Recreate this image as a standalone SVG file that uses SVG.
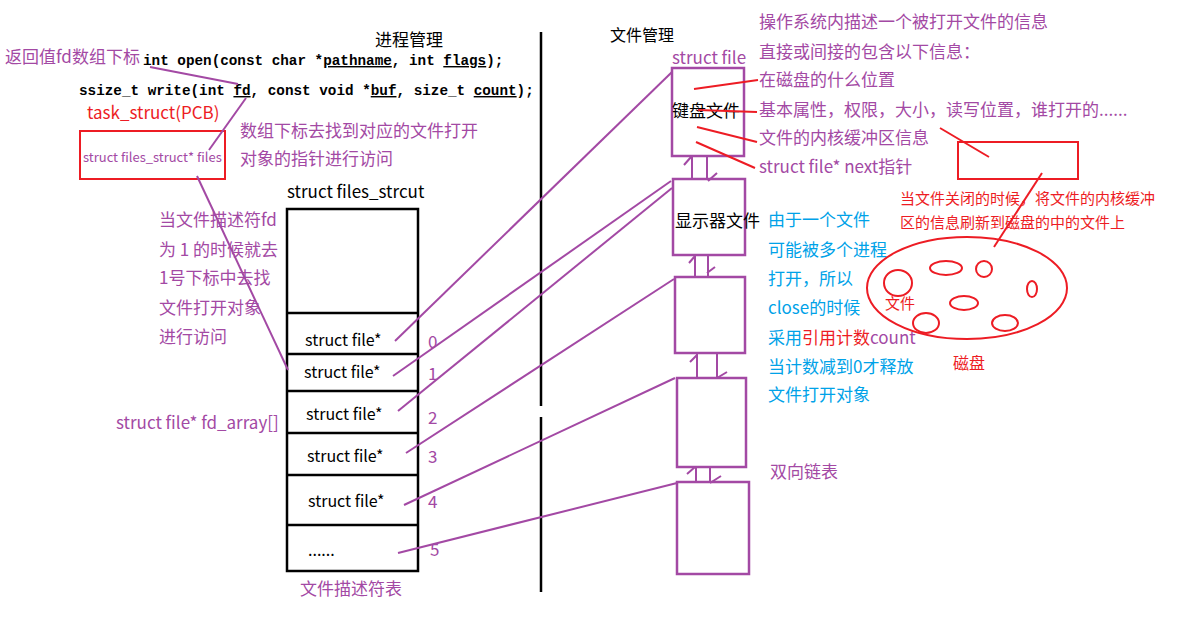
<svg xmlns="http://www.w3.org/2000/svg" width="1197" height="624" viewBox="0 0 1197 624">
<style>
text{font-family:"Noto Sans CJK SC","Noto Sans",sans-serif}
.code{font-family:"Liberation Mono",monospace;font-weight:bold;font-size:14.3px;fill:#000}
.p{fill:#a349a4}
.r{fill:#ed1c24}
.b{fill:#00a2e8}
.k{fill:#000}
.f17{font-size:17px}
.f16{font-size:16px}
.f15{font-size:15px}
.pl{stroke:#a349a4;stroke-width:2;fill:none}
.pb{stroke:#a349a4;stroke-width:2.5;fill:#fff}
.rl{stroke:#ed1c24;stroke-width:2;fill:none}
.bl{stroke:#000;stroke-width:2.5;fill:none}
</style>
<rect width="1197" height="624" fill="#fff"/>

<g id="divider">
<line x1="541" y1="32" x2="541" y2="406" class="bl" stroke-width="2"/>
<line x1="541" y1="417" x2="541" y2="592" class="bl" stroke-width="2"/>
</g>

<g id="titles">
<text x="409" y="46" text-anchor="middle" class="k f17">进程管理</text>
<text x="642" y="41" text-anchor="middle" class="k f16">文件管理</text>
</g>

<g id="code">
<text x="5" y="63" class="p f17">返回值fd数组下标</text>
<text x="143" y="65" class="code">int open(const char *<tspan text-decoration="underline">pathname</tspan>, int <tspan text-decoration="underline">flags</tspan>);</text>
<text x="79" y="95" class="code">ssize_t write(int <tspan text-decoration="underline">fd</tspan>, const void *<tspan text-decoration="underline">buf</tspan>, size_t <tspan text-decoration="underline">count</tspan>);</text>
</g>

<g id="pcb">
<text x="87" y="119" class="r f17">task_struct(PCB)</text>
<rect x="80" y="131" width="145" height="48" class="rl"/>
<text x="83" y="162" class="p" font-size="13">struct files_struct* files</text>
</g>

<g id="notes-left">
<text x="240" y="137" class="p f17">数组下标去找到对应的文件打开</text>
<text x="240" y="165" class="p f17">对象的指针进行访问</text>
<text x="159" y="226" class="p f17">当文件描述符fd</text>
<text x="159" y="256" class="p f17">为 1 的时候就去</text>
<text x="159" y="284" class="p f17">1号下标中去找</text>
<text x="159" y="314" class="p f17">文件打开对象</text>
<text x="159" y="343" class="p f17">进行访问</text>
<text x="116" y="429" class="p f17">struct file* fd_array[]</text>
</g>

<g id="fd-table">
<text x="287" y="198" class="k f17">struct files_strcut</text>
<rect x="287" y="209" width="131" height="362" class="bl"/>
<line x1="287" y1="313" x2="418" y2="313" class="bl"/>
<line x1="287" y1="354" x2="418" y2="354" class="bl"/>
<line x1="287" y1="391" x2="418" y2="391" class="bl"/>
<line x1="287" y1="433" x2="418" y2="433" class="bl"/>
<line x1="287" y1="475" x2="418" y2="475" class="bl"/>
<line x1="287" y1="525" x2="418" y2="525" class="bl"/>
<text x="305" y="346" class="k f16">struct  file*</text>
<text x="304" y="378" class="k f16">struct  file*</text>
<text x="306" y="420" class="k f16">struct  file*</text>
<text x="307" y="462" class="k f16">struct  file*</text>
<text x="308" y="507" class="k f16">struct  file*</text>
<text x="308" y="556" class="k f16">......</text>
<text x="428" y="348" class="p f17">0</text>
<text x="428" y="380" class="p f17">1</text>
<text x="428" y="424" class="p f17">2</text>
<text x="428" y="463" class="p f17">3</text>
<text x="428" y="508" class="p f17">4</text>
<text x="430" y="556" class="p f17">5</text>
<text x="300" y="595" class="p f17">文件描述符表</text>
</g>

<g id="file-keyboard">
<text x="672" y="64" class="p f17">struct file</text>
<rect x="672" y="68" width="72" height="88" class="pb"/>
<text x="672" y="117" class="k f17">键盘文件</text>
</g>
<g id="file-display">
<rect x="673" y="179" width="72" height="76" class="pb"/>
<text x="675" y="227" class="k f17">显示器文件</text>
</g>
<g id="file-3"><rect x="675" y="277" width="70" height="76" class="pb"/></g>
<g id="file-4"><rect x="677" y="378" width="69" height="89" class="pb"/></g>
<g id="file-5"><rect x="677" y="482" width="72" height="92" class="pb"/></g>

<g id="notes-right">
<text x="759" y="28" class="p f17">操作系统内描述一个被打开文件的信息</text>
<text x="759" y="58" class="p f17">直接或间接的包含以下信息：</text>
<text x="759" y="86" class="p f17">在磁盘的什么位置</text>
<text x="759" y="116" class="p f17">基本属性，权限，大小，读写位置，谁打开的......</text>
<text x="759" y="144" class="p f17">文件的内核缓冲区信息</text>
<text x="759" y="173" class="p f17">struct file* next指针</text>
<text x="768" y="226" class="b f17">由于一个文件</text>
<text x="768" y="256" class="b f17">可能被多个进程</text>
<text x="768" y="285" class="b f17">打开，所以</text>
<text x="768" y="314" class="b f17">close的时候</text>
<text x="768" y="344" class="b f17">采用<tspan class="r">引用计数</tspan><tspan class="p">count</tspan></text>
<text x="768" y="373" class="b f17">当计数减到0才释放</text>
<text x="768" y="401" class="b f17">文件打开对象</text>
<text x="770" y="478" class="p f17">双向链表</text>
</g>

<g id="buffer">
<rect x="958" y="142" width="120" height="37" class="rl"/>
<text x="900" y="204" class="r f15">当文件关闭的时候，将文件的内核缓冲</text>
<text x="900" y="228" class="r f15">区的信息刷新到磁盘的中的文件上</text>
</g>

<g id="disk">
<ellipse cx="967" cy="288" rx="100" ry="51" class="rl"/>
<ellipse cx="898" cy="283" rx="14" ry="13" class="rl"/>
<ellipse cx="946" cy="268" rx="16" ry="7" class="rl"/>
<ellipse cx="984" cy="269" rx="8" ry="8" class="rl"/>
<ellipse cx="1032" cy="289" rx="5" ry="8" class="rl"/>
<ellipse cx="964" cy="303" rx="14" ry="7" class="rl"/>
<ellipse cx="926" cy="323" rx="13" ry="10" class="rl"/>
<ellipse cx="1005" cy="323" rx="13" ry="8" class="rl"/>
<text x="885" y="309" class="r f15">文件</text>
<text x="953" y="369" class="r f16">磁盘</text>
</g>

<g id="connectors">
<line x1="150" y1="67" x2="238" y2="84" class="pl"/>
<line x1="246" y1="98" x2="209" y2="150" class="pl"/>
<line x1="197" y1="176" x2="288" y2="370" class="pl"/>
<line x1="395" y1="341" x2="672" y2="72" class="pl"/>
<line x1="393" y1="376" x2="671" y2="181" class="pl"/>
<line x1="398" y1="411" x2="672" y2="188" class="pl"/>
<line x1="406" y1="453" x2="674" y2="279" class="pl"/>
<line x1="404" y1="505" x2="675" y2="378" class="pl"/>
<line x1="398" y1="553" x2="677" y2="483" class="pl"/>
<path d="M692 156V179M684 165L691 157M707 156V179M708 181L717 173" class="pl"/>
<path d="M695 255V277M689 263L695 256M708 255V277M707 273L715 267" class="pl"/>
<path d="M697 353V378M690 362L697 355M717 353V378M717 378L727 372" class="pl"/>
<path d="M696 467V482M687 474L695 467M710 467V482M710 483L721 476" class="pl"/>
<line x1="694" y1="89" x2="758" y2="80" class="rl"/>
<line x1="698" y1="110" x2="757" y2="112" class="rl"/>
<line x1="697" y1="127" x2="757" y2="142" class="rl"/>
<line x1="696" y1="142" x2="755" y2="168" class="rl"/>
<line x1="940" y1="128" x2="989" y2="157" class="rl"/>
<line x1="1042" y1="173" x2="994" y2="247" class="rl"/>
</g>
</svg>
